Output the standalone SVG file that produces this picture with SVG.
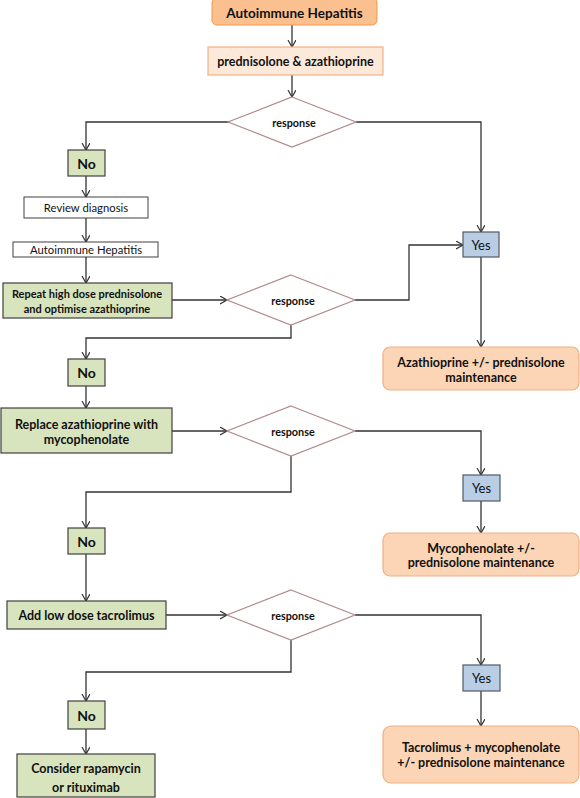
<svg xmlns="http://www.w3.org/2000/svg" width="580" height="798" viewBox="0 0 580 798">
<defs>
<marker id="arr" markerWidth="10" markerHeight="10" refX="7" refY="4" orient="auto" markerUnits="userSpaceOnUse">
<path d="M0,0 L7,4 L0,8" fill="none" stroke="#333" stroke-width="1.2"/>
</marker>
<style>
text{font-family:Lato,"Open Sans","Liberation Sans",sans-serif;fill:#111;text-anchor:middle;dominant-baseline:central}
.b{font-weight:bold}
.r{font-weight:bold;font-size:10.8px}
.start{fill:#fac08f;stroke:#f79646;stroke-width:1}
.light{fill:#fde9d9;stroke:#f4b183;stroke-width:1.2}
.end{fill:#fbd5b5;stroke:#f0b080;stroke-width:1.2}
.green{fill:#d7e4bd;stroke:#404040;stroke-width:1.2}
.white{fill:#fff;stroke:#404040;stroke-width:1}
.blue{fill:#b9cde5;stroke:#505a66;stroke-width:1.2}
.dia{fill:#fff;stroke:#b08a8a;stroke-width:1.2}
.c{fill:none;stroke:#333;stroke-width:1.3;marker-end:url(#arr)}
</style>
</defs>
<rect width="580" height="798" fill="#fff"/>
<g id="connectors">
<path class="c" d="M292,25 V47"/>
<path class="c" d="M292,75 V97"/>
<path class="c" d="M230,122 H86 V150"/>
<path class="c" d="M356,122 H481 V232"/>
<path class="c" d="M86,176 V197"/>
<path class="c" d="M86,218 V242"/>
<path class="c" d="M86,257 V283"/>
<path class="c" d="M172,300 H227"/>
<path class="c" d="M355,300 H409 V245 H463"/>
<path class="c" d="M481,257 V347"/>
<path class="c" d="M291,325 V338 H86 V359"/>
<path class="c" d="M86,386 V408"/>
<path class="c" d="M172,431 H227"/>
<path class="c" d="M355,431 H481 V475"/>
<path class="c" d="M481,501 V533"/>
<path class="c" d="M291,456 V492 H86 V528"/>
<path class="c" d="M86,554 V601"/>
<path class="c" d="M166,615 H227"/>
<path class="c" d="M355,615 H481 V665"/>
<path class="c" d="M481,691 V726"/>
<path class="c" d="M291,640 V672 H86 V701"/>
<path class="c" d="M86,729 V754"/>
</g>
<g id="n-start">
<rect class="start" x="212" y="-2" width="165" height="27" rx="5"/>
<text class="b" x="294.5" y="13" font-size="13.5">Autoimmune Hepatitis</text>
</g>
<g id="n-pred-aza">
<rect class="light" x="208" y="47" width="175" height="28"/>
<text class="b" x="295.5" y="61" font-size="12.5">prednisolone &amp; azathioprine</text>
</g>
<g id="d1">
<polygon class="dia" points="292,97 356,122 292,147 228,122"/>
<text class="r" x="294" y="122">response</text>
</g>
<g id="no1">
<rect class="green" x="68" y="150" width="37" height="26"/>
<text class="b" x="86.5" y="163" font-size="14">No</text>
</g>
<g id="review">
<rect class="white" x="24" y="197" width="124" height="21"/>
<text x="86" y="207.5" font-size="11.3">Review diagnosis</text>
</g>
<g id="aih2">
<rect class="white" x="13" y="242" width="145" height="15"/>
<text x="86" y="249.5" font-size="11.3">Autoimmune Hepatitis</text>
</g>
<g id="repeat">
<rect class="green" x="3" y="283" width="169" height="35"/>
<text class="b" x="87" y="293" font-size="11">Repeat high dose prednisolone</text>
<text class="b" x="87" y="308" font-size="11">and optimise azathioprine</text>
</g>
<g id="d2">
<polygon class="dia" points="291,275 355,300 291,325 227,300"/>
<text class="r" x="293" y="300">response</text>
</g>
<g id="yes1">
<rect class="blue" x="463" y="232" width="36" height="25"/>
<text x="481" y="244.5" font-size="13">Yes</text>
</g>
<g id="aza-maint">
<rect class="end" x="383" y="347" width="196" height="43" rx="7"/>
<text class="b" x="481" y="362" font-size="12.5">Azathioprine +/- prednisolone</text>
<text class="b" x="481" y="377" font-size="12.5">maintenance</text>
</g>
<g id="no2">
<rect class="green" x="68" y="359" width="37" height="27"/>
<text class="b" x="86.5" y="372.5" font-size="14">No</text>
</g>
<g id="replace">
<rect class="green" x="1" y="408" width="171" height="45"/>
<text class="b" x="86.5" y="424" font-size="12.5">Replace azathioprine with</text>
<text class="b" x="86.5" y="439" font-size="12.5">mycophenolate</text>
</g>
<g id="d3">
<polygon class="dia" points="291,406 355,431 291,456 227,431"/>
<text class="r" x="293" y="431">response</text>
</g>
<g id="yes2">
<rect class="blue" x="463" y="475" width="37" height="26"/>
<text x="481.5" y="488" font-size="13">Yes</text>
</g>
<g id="myco-maint">
<rect class="end" x="383" y="533" width="196" height="43" rx="7"/>
<text class="b" x="481" y="548" font-size="12.5">Mycophenolate +/-</text>
<text class="b" x="481" y="562" font-size="12.5">prednisolone maintenance</text>
</g>
<g id="no3">
<rect class="green" x="68" y="528" width="37" height="26"/>
<text class="b" x="86.5" y="541" font-size="14">No</text>
</g>
<g id="tacro">
<rect class="green" x="7" y="601" width="159" height="28"/>
<text class="b" x="86.5" y="615.5" font-size="12.5">Add low dose tacrolimus</text>
</g>
<g id="d4">
<polygon class="dia" points="291,590 355,615 291,640 227,615"/>
<text class="r" x="293" y="615">response</text>
</g>
<g id="yes3">
<rect class="blue" x="463" y="665" width="37" height="26"/>
<text x="481.5" y="678" font-size="13">Yes</text>
</g>
<g id="tacro-maint">
<rect class="end" x="383" y="726" width="196" height="57" rx="8"/>
<text class="b" x="481" y="747" font-size="12.5">Tacrolimus + mycophenolate</text>
<text class="b" x="481" y="762" font-size="12.5">+/- prednisolone maintenance</text>
</g>
<g id="no4">
<rect class="green" x="68" y="701" width="37" height="28"/>
<text class="b" x="86.5" y="715" font-size="14">No</text>
</g>
<g id="consider">
<rect class="green" x="17" y="754" width="138" height="43"/>
<text class="b" x="86" y="768" font-size="12.5">Consider rapamycin</text>
<text class="b" x="86" y="787" font-size="12.5">or rituximab</text>
</g>
</svg>
